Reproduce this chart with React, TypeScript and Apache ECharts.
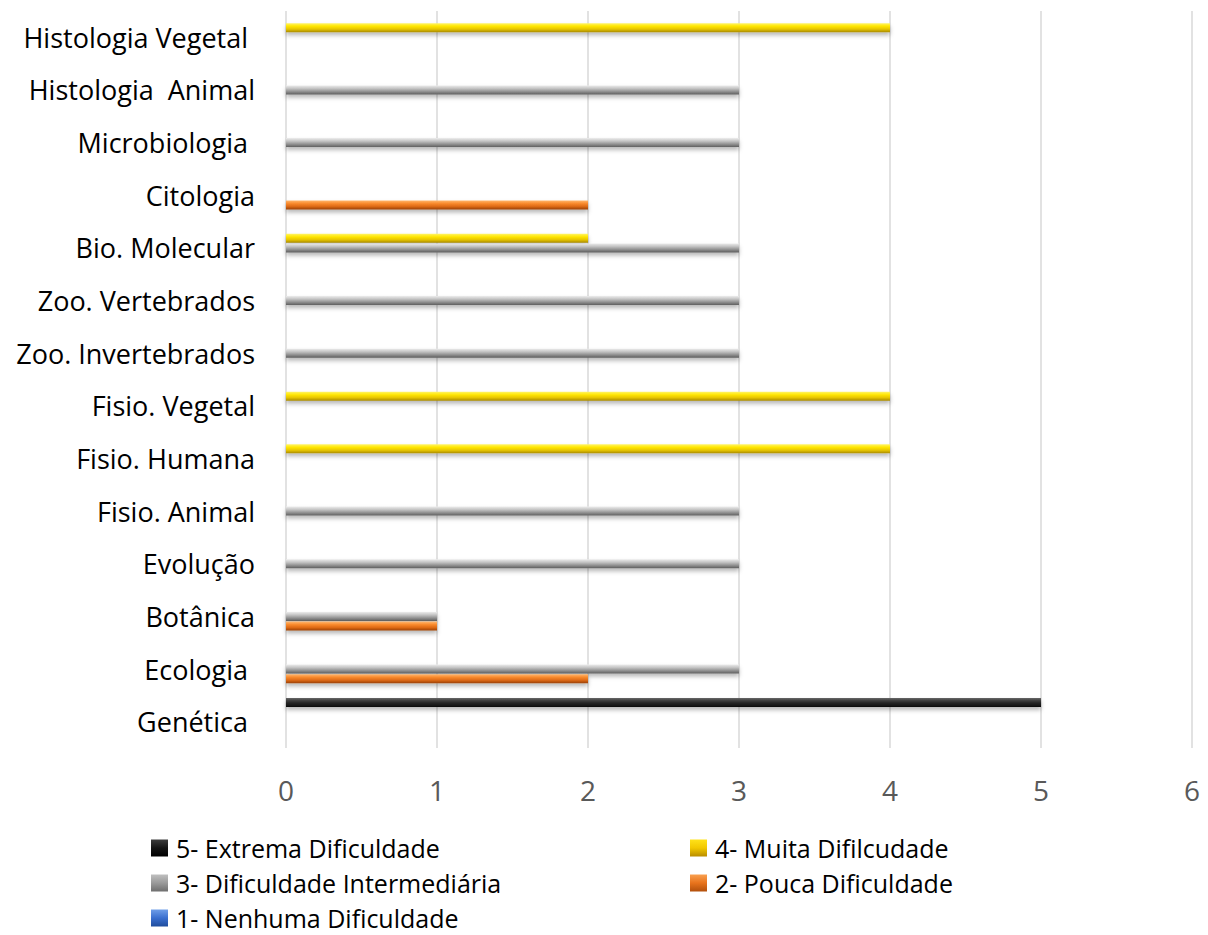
import React, { useEffect, useRef } from "react";
import * as echarts from "echarts";

// Subjects, listed bottom to top as they sit on the category axis
const categories = [
  "Genética ",
  "Ecologia ",
  "Botânica",
  "Evolução",
  "Fisio. Animal",
  "Fisio. Humana",
  "Fisio. Vegetal",
  "Zoo. Invertebrados",
  "Zoo. Vertebrados",
  "Bio. Molecular",
  "Citologia",
  "Microbiologia ",
  "Histologia  Animal",
  "Histologia Vegetal ",
];

const seriesNames = [
  "5- Extrema Dificuldade",
  "4- Muita Difilcudade",
  "3- Dificuldade Intermediária",
  "2- Pouca Dificuldade",
  "1- Nenhuma Dificuldade",
];

const extrema = [5, null, null, null, null, null, null, null, null, null, null, null, null, null];
const muita = [null, null, null, null, null, 4, 4, null, null, 2, null, null, null, 4];
const intermediaria = [null, 3, 1, 3, 3, null, null, 3, 3, 3, null, 3, 3, null];
const pouca = [null, 2, 1, null, null, null, null, null, null, null, 2, null, null, null];
const nenhuma = [null, null, null, null, null, null, null, null, null, null, null, null, null, null];

const xTicks = [0, 1, 2, 3, 4, 5, 6];

const FONT = "'Open Sans', Lato, sans-serif";

const gradient = (stops: string[]) =>
  new echarts.graphic.LinearGradient(
    0,
    0,
    0,
    1,
    stops.map((c, i) => ({ offset: i / (stops.length - 1), color: c }))
  );

// Bevelled bar look: light top edge, body, dark bottom edge
const fills = [
  gradient(["#6a6a6a", "#3a3a3a", "#1e1e1e", "#0a0a0a"]),
  gradient(["#fff46a", "#ffe600", "#e6c400", "#a88a00"]),
  gradient(["#ececec", "#c4c4c4", "#929292", "#5e5e5e"]),
  gradient(["#ffb870", "#f98b2e", "#de6a14", "#9c4208"]),
  gradient(["#8fb4f0", "#4a7fd8", "#2d62c0", "#1a3f86"]),
];

// Legend swatches: solid body with darker lower edge
const swatches = [
  gradient(["#3c3c3c", "#141414", "#000000"]),
  gradient(["#ffe21a", "#f2c800", "#b88c00"]),
  gradient(["#bfbfbf", "#9a9a9a", "#6e6e6e"]),
  gradient(["#f9a050", "#e8731c", "#b2500c"]),
  gradient(["#6f9ee8", "#3a6fcf", "#1f4c9c"]),
];

const seriesData = [extrema, muita, intermediaria, pouca, nenhuma];

export default function App() {
  const ref = useRef<HTMLDivElement>(null);

  useEffect(() => {
    if (!ref.current) return;
    const chart = echarts.init(ref.current, null, { renderer: "svg" });

    const legendPos = [
      { left: 151, top: 835 },
      { left: 690, top: 835 },
      { left: 151, top: 870 },
      { left: 690, top: 870 },
      { left: 151, top: 905 },
    ];

    chart.setOption({
      animation: false,
      backgroundColor: "#ffffff",
      textStyle: { fontFamily: FONT },
      grid: { left: 286, right: 16, top: 11, bottom: 187, containLabel: false },
      legend: seriesNames.map((name, i) => ({
        data: [{ name, itemStyle: { color: swatches[i] } }],
        left: legendPos[i].left,
        top: legendPos[i].top,
        padding: 0,
        itemWidth: 17,
        itemHeight: 17,
        itemGap: 0,
        icon: "rect",
        selectedMode: false,
        textStyle: {
          fontFamily: FONT,
          fontSize: 25,
          color: "#000000",
          lineHeight: 26,
          padding: [0, 0, 0, 3],
        },
      })),
      xAxis: {
        type: "value",
        min: xTicks[0],
        max: xTicks[xTicks.length - 1],
        interval: 1,
        axisLine: { show: false },
        axisTick: { show: false },
        splitLine: { show: true, lineStyle: { color: "#d9d9d9", width: 1.5 } },
        axisLabel: {
          fontFamily: FONT,
          fontSize: 28,
          color: "#595959",
          margin: 28,
        },
      },
      yAxis: {
        type: "category",
        data: categories,
        axisLine: { show: false },
        axisTick: { show: false },
        splitLine: { show: false },
        axisLabel: {
          fontFamily: FONT,
          fontSize: 27,
          color: "#000000",
          margin: 31,
        },
      },
      series: seriesNames.map((name, i) => ({
        name,
        type: "bar",
        data: seriesData[i],
        barWidth: 9,
        barGap: "7%",
        itemStyle: {
          color: fills[i],
          shadowBlur: 4,
          shadowOffsetY: 3,
          shadowColor: "rgba(0,0,0,0.28)",
        },
      })),
    });

    return () => chart.dispose();
  }, []);

  return (
    <div
      ref={ref}
      style={{ position: "absolute", left: 0, top: 0, width: 1208, height: 935 }}
    />
  );
}
